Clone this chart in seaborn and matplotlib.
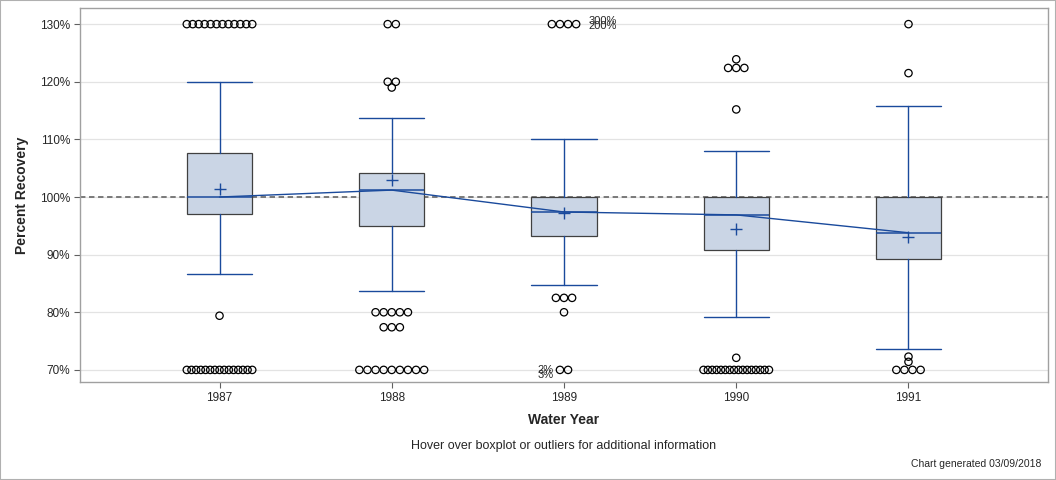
import numpy as np
import pandas as pd
import matplotlib
matplotlib.use('Agg')
import matplotlib.pyplot as plt
import seaborn as sns

# ---- data ----
years = ["1987", "1988", "1989", "1990", "1991"]
whisk_lo = [86.7, 83.7, 84.8, 79.2, 73.7]
q1 = [97.1, 95.0, 93.2, 90.8, 89.3]
medians = [100.0, 101.2, 97.4, 96.9, 93.8]
q3 = [107.6, 104.2, 100.0, 100.0, 100.0]
whisk_hi = [120.0, 113.7, 110.0, 108.0, 115.8]
means = [101.4, 102.9, 97.2, 94.4, 93.1]

outliers = {
    "1987": [130.0] * 12 + [79.4] + [70.0] * 15,
    "1988": [130.0] * 2 + [120.0, 120.0, 119.0] + [80.0] * 5 + [77.4] * 3 + [70.0] * 9,
    "1989": [130.0] * 4 + [82.5] * 3 + [80.0] + [70.0] * 2,
    "1990": [123.9] + [122.4] * 3 + [115.2] + [72.1] + [70.0] * 16,
    "1991": [130.0, 121.5, 72.3, 71.4] + [70.0] * 4,
}
# off-scale labels shown for 1989
offscale_hi = ["300%", "200%"]
offscale_lo = ["2%", "3%"]

box_fill = "#CAD5E5"
blue = "#1A4A9C"

sns.set_theme(style="white")
plt.rcParams['font.family'] = ['Liberation Sans', 'DejaVu Sans']

fig = plt.figure(figsize=(10.56, 4.8), dpi=100)
ax = fig.add_axes([80 / 1056, 98 / 480, 968 / 1056, 374 / 480])

# boxes via matplotlib bxp with precomputed stats
stats = []
for i, y in enumerate(years):
    stats.append({"label": y, "whislo": whisk_lo[i], "q1": q1[i], "med": medians[i],
                  "q3": q3[i], "whishi": whisk_hi[i], "mean": means[i], "fliers": []})
ax.bxp(stats, positions=range(len(years)), widths=0.38, patch_artist=True,
       showmeans=True, showfliers=False,
       boxprops=dict(facecolor=box_fill, edgecolor="#404040", linewidth=0.9),
       medianprops=dict(color=blue, linewidth=1.1),
       whiskerprops=dict(color=blue, linewidth=1.0),
       capprops=dict(color=blue, linewidth=1.0),
       meanprops=dict(marker="+", markeredgecolor=blue, markersize=9, markeredgewidth=1.0),
       capwidths=0.38, zorder=3)

# line connecting medians
med_df = pd.DataFrame({"pos": range(len(years)), "median": medians})
sns.lineplot(data=med_df, x="pos", y="median", color=blue, linewidth=1.0, ax=ax, zorder=4)

# outliers, duplicates spread sideways
rows = []
for i, y in enumerate(years):
    vals = pd.Series(outliers[y])
    for v, n in vals.value_counts(sort=False).items():
        step = min(0.047, 0.38 / max(n - 1, 1))
        offs = (np.arange(n) - (n - 1) / 2) * step
        for o in offs:
            rows.append({"x": i + o, "val": v})
out_df = pd.DataFrame(rows)
sns.scatterplot(data=out_df, x="x", y="val", marker="o", s=28, facecolor="none",
                edgecolor="black", linewidth=0.9, ax=ax, zorder=5)

ax.axhline(100, color="#707070", linestyle=(0, (3, 2)), linewidth=1.3, zorder=2)

# off-scale annotations for 1989
ax.text(2.14, 130.6, offscale_hi[0], fontsize=8, va="center", ha="left")
ax.text(2.14, 129.7, offscale_hi[1], fontsize=8, va="center", ha="left")
ax.text(1.94, 70.0, offscale_lo[0], fontsize=8, va="center", ha="right")
ax.text(1.94, 69.1, offscale_lo[1], fontsize=8, va="center", ha="right")

ax.set_xlim(-0.81, 4.81)
ax.set_ylim(67.9, 132.8)
ax.set_yticks(range(70, 131, 10))
ax.set_yticklabels([f"{t}%" for t in range(70, 131, 10)], fontsize=8.5)
ax.set_xticks(range(len(years)))
ax.set_xticklabels(years, fontsize=8.5)
ax.yaxis.grid(True, color="#E3E3E3", linewidth=0.9)
ax.set_axisbelow(True)
ax.tick_params(axis="both", length=4, width=0.8, color="#606060", direction="out",
               left=True, bottom=True, pad=3)
for sp in ax.spines.values():
    sp.set_color("#A0A0A0")
    sp.set_linewidth(1.0)
ax.set_xlabel("Water Year", fontsize=10, fontweight="bold", labelpad=7)
ax.set_ylabel("Percent Recovery", fontsize=10, fontweight="bold", labelpad=8)

fig.text(564 / 1056, 1 - 446 / 480, "Hover over boxplot or outliers for additional information",
         fontsize=9, ha="center", va="center")
fig.text(1041 / 1056, 1 - 464 / 480, "Chart generated 03/09/2018",
         fontsize=7.5, ha="right", va="center")
fig.patches.append(plt.Rectangle((0, 0), 1, 1, transform=fig.transFigure, fill=False,
                                 edgecolor="#B0B0B0", linewidth=1.5))

fig.savefig("out.png", dpi=100)
